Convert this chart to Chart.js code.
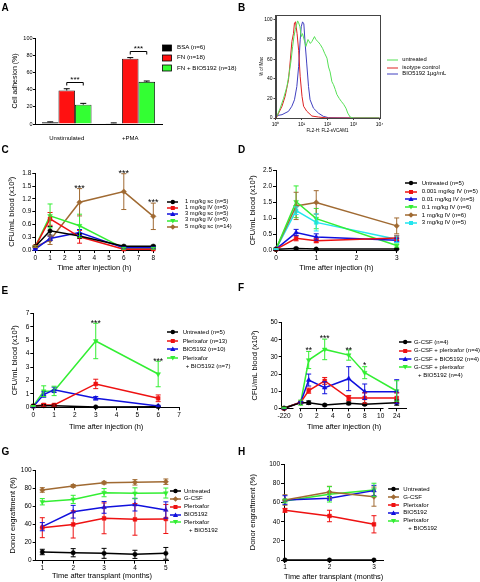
<!DOCTYPE html>
<html><head><meta charset="utf-8">
<script src="https://cdn.jsdelivr.net/npm/chart.js@4.4.1/dist/chart.umd.min.js"></script>
<style>
html,body{margin:0;padding:0;background:#fff;}
#wrap{position:relative;width:480px;height:582px;overflow:hidden;font-family:"Liberation Sans",Arial,sans-serif;color:#000;background:#fff;}
canvas{position:absolute;}
.pl{position:absolute;font-weight:bold;font-size:10px;line-height:10px;}
.lg{position:absolute;white-space:nowrap;}
.mk{position:absolute;line-height:0;}
</style></head><body><div id="wrap">
<canvas id="cA" width="240" height="140" style="left:0;top:0"></canvas>
<canvas id="cB" width="240" height="140" style="left:240px;top:0"></canvas>
<canvas id="cC" width="240" height="140" style="left:0;top:140px"></canvas>
<canvas id="cD" width="240" height="140" style="left:240px;top:140px"></canvas>
<canvas id="cE" width="240" height="155" style="left:0;top:280px"></canvas>
<canvas id="cF" width="240" height="155" style="left:240px;top:280px"></canvas>
<canvas id="cG" width="240" height="162" style="left:0;top:420px"></canvas>
<canvas id="cH" width="240" height="162" style="left:240px;top:420px"></canvas>
<div class="pl" style="left:1.5px;top:3px">A</div>
<div class="pl" style="left:238px;top:3px">B</div>
<div class="pl" style="left:1.5px;top:145px">C</div>
<div class="pl" style="left:238px;top:145px">D</div>
<div class="pl" style="left:1.5px;top:286px">E</div>
<div class="pl" style="left:238px;top:283px">F</div>
<div class="pl" style="left:1.5px;top:447px">G</div>
<div class="pl" style="left:238px;top:447px">H</div>
</div>
<script>
// ---------------- DATA ----------------
// Panel A
const A_categories = ['Unstimulated', '+PMA'];
const A_names = ['BSA (n=6)', 'FN (n=18)', 'FN + BIO5192 (n=18)'];
const A_bsa = [2, 1];
const A_bsaErr = [0.5, 0.3];
const A_fn = [39, 76];
const A_fnErr = [2, 1.2];
const A_fnBio = [22.5, 49];
const A_fnBioErr = [1.5, 1];
const A_yTicks = [0, 20, 40, 60, 80, 100];
const A_sigText = ['***', '***'];
const A_bracketY = [49, 85];
const A_starY = [53.8, 89.9];

// Panel B (x = log10 of fluorescence, y = % of max)
const B_names = ['untreated', 'isotype control', 'BIO5192 1\u03bcg/mL'];
const B_untreatedLog = [0.05, 0.18, 0.31, 0.44, 0.53, 0.6, 0.66, 0.71, 0.76, 0.85, 0.89, 0.94, 0.99, 1.04, 1.12, 1.17, 1.25, 1.34, 1.4, 1.5, 1.55, 1.63, 1.72, 1.81, 1.89, 1.98, 2.04, 2.1, 2.17, 2.23, 2.3, 2.36, 2.45, 2.53, 2.62, 2.71, 2.78, 2.87, 3.0, 4.0];
const B_untreatedPct = [1.7, 10, 20, 32, 46, 59, 73, 83, 90, 99, 97, 93, 83, 86, 78, 73, 80, 76, 78, 83, 80, 78, 75, 71, 66, 61, 52, 47, 37, 34, 29, 24, 20, 17, 14, 10, 5, 1, 0, 0];
const B_isotypeLog = [0.0, 0.05, 0.12, 0.25, 0.37, 0.5, 0.57, 0.63, 0.69, 0.73, 0.77, 0.83, 0.89, 0.95, 1.02, 1.08, 1.2, 1.4, 1.65, 2.0, 3.0, 4.0];
const B_isotypePct = [0, 1, 5, 12, 22, 39, 59, 78, 86, 97, 98, 86, 69, 42, 22, 12, 7, 2, 1, 0, 0, 0];
const B_bioLog = [0.0, 0.05, 0.25, 0.5, 0.63, 0.73, 0.82, 0.89, 0.95, 0.99, 1.04, 1.09, 1.14, 1.2, 1.27, 1.33, 1.46, 1.65, 1.84, 2.04, 3.0, 4.0];
const B_bioPct = [2, 2.4, 3.4, 6.8, 12, 18.6, 32, 52.5, 79.7, 93, 98, 96, 76, 56, 32, 18.6, 10, 5, 1.7, 0.3, 0, 0];
const B_xTicks = [1, 10, 100, 1000, 10000];
const B_xLabels = ['10\u2070', '10\u00b9', '10\u00b2', '10\u00b3', '10\u2074'];
const B_yTicks = [0, 20, 40, 60, 80, 100];

// Panel C
const C_time = [0, 1, 3, 6, 8];
const C_names = ['1 mg/kg sc (n=5)', '1 mg/kg IV (n=5)', '3 mg/kg sc (n=5)', '3 mg/kg IV (n=5)', '5 mg/kg sc (n=14)'];
const C_1sc = [0.08, 0.45, 0.33, 0.09, 0.09];
const C_1scErr = [0.02, 0.1, 0.05, 0.02, 0.02];
const C_1iv = [0.08, 0.73, 0.31, 0.02, 0.02];
const C_1ivErr = [0.02, 0.15, 0.15, 0.01, 0.01];
const C_3sc = [0.02, 0.27, 0.41, 0.05, 0.05];
const C_3scErr = [0.02, 0.05, 0.07, 0.02, 0.02];
const C_3iv = [0.08, 0.8, 0.57, 0.04, 0.04];
const C_3ivErr = [0.02, 0.28, 0.27, 0.02, 0.02];
const C_5sc = [0.08, 0.23, 1.12, 1.37, 0.79];
const C_5scErr = [0.02, 0.1, 0.32, 0.42, 0.31];
const C_xTicks = [0, 1, 2, 3, 4, 5, 6, 7, 8];
const C_yTicks = [0, 0.3, 0.6, 0.9, 1.2, 1.5, 1.8];
const C_starX = [3, 6, 8];
const C_starY = [1.5, 1.85, 1.17];
const C_starText = ['***', '***', '***'];

// Panel D
const D_time = [0, 0.5, 1, 3];
const D_names = ['Untreated (n=5)', '0.001 mg/kg IV (n=5)', '0.01 mg/kg IV (n=5)', '0.1 mg/kg IV (n=6)', '1 mg/kg IV (n=6)', '3 mg/kg IV (n=5)'];
const D_untreated = [0.02, 0.05, 0.03, 0.03];
const D_untreatedErr = [0.01, 0.02, 0.01, 0.01];
const D_0001 = [0.02, 0.37, 0.29, 0.38];
const D_0001Err = [0.01, 0.08, 0.06, 0.08];
const D_001 = [0.03, 0.55, 0.41, 0.31];
const D_001Err = [0.01, 0.1, 0.1, 0.06];
const D_01 = [0.03, 1.52, 0.99, 0.14];
const D_01Err = [0.01, 0.5, 0.32, 0.05];
const D_1 = [0.03, 1.39, 1.5, 0.76];
const D_1Err = [0.01, 0.43, 0.37, 0.25];
const D_3 = [0.03, 1.24, 0.87, 0.34];
const D_3Err = [0.01, 0.12, 0.27, 0.1];
const D_xTicks = [0, 1, 2, 3];
const D_yTicks = [0, 0.5, 1, 1.5, 2, 2.5];

// Panel E
const E_time = [0, 0.5, 1, 3, 6];
const E_names = ['Untreated (n=5)', 'Plerixafor (n=13)', 'BIO5192 (n=10)', 'Plerixafor', '+ BIO5192 (n=7)'];
const E_untreated = [0.1, 0.12, 0.12, 0.03, 0.05];
const E_untreatedErr = [0.03, 0.05, 0.05, 0.02, 0.03];
const E_plerixafor = [0.1, 0.18, 0.17, 1.74, 0.67];
const E_plerixaforErr = [0.03, 0.1, 0.08, 0.35, 0.25];
const E_bio = [0.05, 0.95, 1.3, 0.67, 0.1];
const E_bioErr = [0.02, 0.2, 0.2, 0.13, 0.05];
const E_combo = [0.1, 1.2, 1.22, 4.94, 2.48];
const E_comboErr = [0.03, 0.4, 0.35, 1.32, 0.95];
const E_xTicks = [0, 1, 2, 3, 4, 5, 6, 7];
const E_yTicks = [0, 1, 2, 3, 4, 5, 6, 7];
const E_starX = [3, 6];
const E_starY = [6.43, 3.6];
const E_starText = ['***', '***'];

// Panel F (broken time axis)
const F_time = [-220, 0, 1, 3, 6, 8, 24];
const F_names = ['G-CSF (n=4)', 'G-CSF + plerixafor (n=4)', 'G-CSF + BIO5192 (n=4)', 'G-CSF + plerixafor', '+ BIO5192 (n=4)'];
const F_gcsf = [0, 3.3, 3.3, 1.9, 2.9, 2.3, 3.3];
const F_gcsfErr = [0.3, 0.5, 1, 0.5, 0.8, 0.6, 1.5];
const F_gcsfPlx = [0, 3.5, 10.3, 16, 6, 6, 6];
const F_gcsfPlxErr = [0.3, 0.5, 1.5, 2, 1.5, 3, 3];
const F_gcsfBio = [0, 3.5, 16.5, 12, 17.3, 9.7, 9.7];
const F_gcsfBioErr = [0.3, 0.5, 3.5, 3.5, 7, 4.5, 7];
const F_gcsfCombo = [0.3, 3.3, 28.2, 34.4, 31.1, 20.8, 10.1];
const F_gcsfComboErr = [0.3, 1.5, 5, 6, 3, 3.5, 6];
const F_xTicks = [-220, 0, 2, 4, 6, 8, 10, 24];
const F_yTicks = [0, 10, 20, 30, 40, 50];
const F_starX = [1, 3, 6, 8];
const F_starY = [35, 42.2, 35, 26.3];
const F_starText = ['**', '***', '**', '*'];

// Panel G
const G_month = [1, 2, 3, 4, 5];
const G_names = ['Untreated', 'G-CSF', 'Plerixafor', 'BIO5192', 'Plerixafor', '+ BIO5192'];
const G_untreated = [9.6, 8.8, 8.1, 7, 8.1];
const G_untreatedErr = [3, 4.5, 5.5, 4.5, 6.5];
const G_gcsf = [78, 82.4, 86, 86.4, 87.1];
const G_gcsfErr = [2.5, 1.5, 1.5, 3, 3];
const G_plerixafor = [36.4, 40, 46.7, 45.6, 46];
const G_plerixaforErr = [11, 15, 17, 17.5, 16];
const G_bio = [37.5, 54, 58.8, 61.8, 55.9];
const G_bioErr = [4.5, 7, 6.5, 7, 9];
const G_combo = [65, 67.6, 75, 74.3, 74.6];
const G_comboErr = [3.5, 4.5, 4.5, 6, 5.5];
const G_xTicks = [1, 2, 3, 4, 5];
const G_yTicks = [0, 20, 40, 60, 80, 100];

// Panel H
const H_month = [1, 2, 3];
const H_names = ['Untreated', 'G-CSF', 'Plerixafor', 'BIO5192', 'Plerixafor', '+ BIO5192'];
const H_untreated = [0, 0, 0];
const H_untreatedErr = [0, 0, 0];
const H_gcsf = [62.7, 71, 66.2];
const H_gcsfErr = [5.5, 6, 10];
const H_plerixafor = [51.9, 46, 37.3];
const H_plerixaforErr = [2, 6, 9];
const H_bio = [62.7, 64.5, 72.5];
const H_bioErr = [4.5, 2, 5.5];
const H_combo = [61.7, 68.6, 73.2];
const H_comboErr = [2, 8, 7];
const H_xTicks = [1, 2, 3];
const H_yTicks = [0, 20, 40, 60, 80, 100];

// ---------------- STYLE ----------------
const FONT = '"Liberation Sans", Arial, sans-serif';
const COL = {black: '#000000', red: '#ee1111', blue: '#1010dd', green: '#33ee33', brown: '#a06a32', cyan: '#22e5ee'};
Chart.defaults.font.family = FONT;
Chart.defaults.color = '#000';

// ---------------- PLUGINS ----------------
const errorBars = {
  id: 'errorBars',
  afterDatasetsDraw(chart) {
    const ctx = chart.ctx, ys = chart.scales.y;
    chart.data.datasets.forEach((ds, i) => {
      if (!ds.errors) return;
      const meta = chart.getDatasetMeta(i);
      ctx.save();
      ctx.strokeStyle = ds.errorColor || ds.borderColor;
      ctx.lineWidth = 1;
      meta.data.forEach((el, j) => {
        const raw = ds.data[j];
        const v = (raw !== null && typeof raw === 'object') ? raw.y : raw;
        const e = ds.errors[j];
        if (v == null || !e) return;
        const x = el.x;
        const yt = ys.getPixelForValue(v + e);
        const yb = ds.errorUpOnly ? ys.getPixelForValue(v) : ys.getPixelForValue(v - e);
        const cw = ds.capHalf || 2.5;
        ctx.beginPath();
        ctx.moveTo(x, yt); ctx.lineTo(x, yb);
        ctx.moveTo(x - cw, yt); ctx.lineTo(x + cw, yt);
        if (!ds.errorUpOnly) { ctx.moveTo(x - cw, yb); ctx.lineTo(x + cw, yb); }
        ctx.stroke();
      });
      ctx.restore();
    });
  }
};
const starsPlugin = {
  id: 'stars',
  afterDatasetsDraw(chart, args, opts) {
    if (!opts || !opts.items) return;
    const {ctx} = chart, xs = chart.scales.x, ys = chart.scales.y;
    const size = opts.size || 9;
    ctx.save();
    ctx.fillStyle = '#000';
    ctx.font = size + 'px ' + FONT;
    ctx.textAlign = 'center';
    ctx.textBaseline = 'alphabetic';
    opts.items.forEach(it => {
      ctx.fillText(it.text, xs.getPixelForValue(it.x), ys.getPixelForValue(it.y) + 0.575 * size);
    });
    ctx.restore();
  }
};
const breaksPlugin = {
  id: 'breaks',
  afterDraw(chart, args, opts) {
    if (!opts || !opts.ranges) return;
    const {ctx, chartArea} = chart, xs = chart.scales.x;
    ctx.save();
    ctx.fillStyle = '#fff';
    opts.ranges.forEach(r => {
      const a = xs.getPixelForValue(r[0]), b = xs.getPixelForValue(r[1]);
      ctx.fillRect(a, chartArea.bottom - 0.8, b - a, 5);
    });
    ctx.restore();
  }
};
const boxPlugin = {
  id: 'box',
  afterDraw(chart) {
    const {ctx, chartArea: c} = chart;
    ctx.save();
    ctx.strokeStyle = '#444';
    ctx.lineWidth = 1;
    ctx.strokeRect(Math.round(c.left) + 0.5, Math.round(c.top) + 0.5, Math.round(c.right - c.left), Math.round(c.bottom - c.top));
    ctx.restore();
  }
};
const bracketsPlugin = {
  id: 'brackets',
  afterDatasetsDraw(chart, args, opts) {
    if (!opts || !opts.items) return;
    const {ctx} = chart, ys = chart.scales.y;
    opts.items.forEach(it => {
      const a = chart.getDatasetMeta(it.from).data[it.cat].x;
      const b = chart.getDatasetMeta(it.to).data[it.cat].x;
      const y = Math.round(ys.getPixelForValue(it.y)) + 0.5;
      ctx.save();
      ctx.strokeStyle = '#000'; ctx.lineWidth = 1;
      ctx.beginPath();
      ctx.moveTo(a, y + 3); ctx.lineTo(a, y); ctx.lineTo(b, y); ctx.lineTo(b, y + 3);
      ctx.stroke();
      ctx.fillStyle = '#000';
      ctx.font = '8px ' + FONT;
      ctx.textAlign = 'center';
      ctx.fillText(it.text, (a + b) / 2, ys.getPixelForValue(it.starY) + 0.575 * 8);
      ctx.restore();
    });
  }
};

function axisBase(tickSize) {
  return {
    grid: {display: true, drawOnChartArea: false, drawTicks: true, tickLength: 3, color: '#000', tickWidth: 1},
    border: {display: true, color: '#000', width: 1},
    ticks: {font: {family: FONT, size: tickSize}, color: '#000', maxRotation: 0, autoSkip: false}
  };
}

// ---------------- LINE PANELS ----------------
function linePanel(id, P) {
  const xmap = P.xmap || (t => t);
  const datasets = P.series.map(s => ({
    label: s.label,
    data: P.x.map((t, i) => ({x: xmap(t), y: s.y[i]})),
    errors: s.err,
    borderColor: s.color, backgroundColor: s.color,
    pointBackgroundColor: s.color, pointBorderColor: s.color,
    borderWidth: 1.5,
    pointRadius: s.shape === 'circle' ? 2.2 : 2.7,
    pointStyle: s.shape, rotation: s.rot || 0,
    pointBorderWidth: 0.5, tension: 0, clip: false, capHalf: 2.5
  }));
  const titleFont = {family: FONT, size: P.titleSize || 7.5};
  const xb = axisBase(P.tickSize || 6.5), yb = axisBase(P.tickSize || 6.5);
  return new Chart(document.getElementById(id), {
    type: 'line',
    data: {datasets},
    options: {
      responsive: false, animation: false, devicePixelRatio: 1, events: [],
      layout: {autoPadding: false, padding: {left: 0, top: P.padTop, right: P.padRight, bottom: 0}},
      plugins: {
        legend: {display: false}, tooltip: {enabled: false},
        stars: {items: P.stars || [], size: P.starSize || 9},
        breaks: P.breaks ? {ranges: P.breaks} : {ranges: null}
      },
      scales: {
        x: Object.assign(xb, {
          type: 'linear', min: P.xMin, max: P.xMax,
          afterBuildTicks: s => { s.ticks = P.xTicks.map(v => ({value: xmap(v)})); },
          afterFit: s => { s.height = P.xH; s.paddingLeft = 0; s.paddingRight = 0; },
          ticks: Object.assign(xb.ticks, {padding: P.xTickPad, callback: (v, i) => String(P.xTicks[i])}),
          title: {display: true, text: P.xTitle, font: titleFont, color: '#000', padding: {top: 0, bottom: P.xTitlePad}}
        }),
        y: Object.assign(yb, {
          type: 'linear', min: P.yMin, max: P.yMax,
          afterBuildTicks: s => { s.ticks = P.yTicks.map(v => ({value: v})); },
          afterFit: s => { s.width = P.yW; s.paddingTop = 0; s.paddingBottom = 0; },
          ticks: Object.assign(yb.ticks, {padding: 1, callback: (v, i) => P.yFmt ? P.yFmt(P.yTicks[i]) : String(P.yTicks[i])}),
          title: {display: true, text: P.yTitle, font: titleFont, color: '#000', padding: {top: P.yTitlePad, bottom: 0}}
        })
      }
    },
    plugins: [errorBars, starsPlugin, breaksPlugin]
  });
}

// ---------------- PANEL A ----------------
(function () {
  const mk = (label, data, err, color) => ({
    label, data, errors: err, backgroundColor: color, borderColor: '#000', borderWidth: 0.8,
    errorColor: '#000', errorUpOnly: true, capHalf: 3, categoryPercentage: 0.78, barPercentage: 1.0
  });
  const xb = axisBase(6), yb = axisBase(5.5);
  new Chart(document.getElementById('cA'), {
    type: 'bar',
    data: {labels: A_categories, datasets: [
      mk(A_names[0], A_bsa, A_bsaErr, COL.black),
      mk(A_names[1], A_fn, A_fnErr, '#ff1111'),
      mk(A_names[2], A_fnBio, A_fnBioErr, '#33ff33')
    ]},
    options: {
      responsive: false, animation: false, devicePixelRatio: 1, events: [],
      layout: {autoPadding: false, padding: {left: 0, top: 38, right: 78, bottom: 0}},
      plugins: {
        legend: {display: false}, tooltip: {enabled: false},
        brackets: {items: A_categories.map((c, i) => ({cat: i, from: 1, to: 2, y: A_bracketY[i], starY: A_starY[i], text: A_sigText[i]}))}
      },
      scales: {
        x: Object.assign(xb, {
          grid: {display: false},
          afterFit: s => { s.height = 16; s.paddingLeft = 0; s.paddingRight = 0; },
          ticks: Object.assign(xb.ticks, {padding: 3})
        }),
        y: Object.assign(yb, {
          min: 0, max: 100,
          grid: Object.assign(yb.grid, {tickLength: 2}),
          afterBuildTicks: s => { s.ticks = A_yTicks.map(v => ({value: v})); },
          afterFit: s => { s.width = 35; s.paddingTop = 0; s.paddingBottom = 0; },
          ticks: Object.assign(yb.ticks, {padding: 0.5}),
          title: {display: true, text: 'Cell adhesion (%)', font: {family: FONT, size: 7}, color: '#000', padding: {top: 10.8, bottom: 0}}
        })
      }
    },
    plugins: [errorBars, bracketsPlugin]
  });
})();

// ---------------- PANEL B ----------------
(function () {
  const curves = [
    [B_untreatedLog, B_untreatedPct, '#55e055'],
    [B_isotypeLog, B_isotypePct, '#dd2222'],
    [B_bioLog, B_bioPct, '#4040c0']
  ];
  const xb = axisBase(5), yb = axisBase(5);
  new Chart(document.getElementById('cB'), {
    type: 'line',
    data: {datasets: curves.map((c, k) => ({
      label: B_names[k],
      data: c[0].map((e, i) => ({x: Math.pow(10, e), y: c[1][i]})),
      borderColor: c[2], borderWidth: 1, pointRadius: 0, tension: 0, clip: false
    }))},
    options: {
      responsive: false, animation: false, devicePixelRatio: 1, events: [],
      layout: {autoPadding: false, padding: {left: 0, top: 15, right: 100.5, bottom: 0}},
      plugins: {legend: {display: false}, tooltip: {enabled: false}},
      scales: {
        x: Object.assign(xb, {
          type: 'logarithmic', min: 1, max: 10000,
          grid: Object.assign(xb.grid, {tickLength: 2, color: '#444'}),
          border: {display: true, color: '#444', width: 1},
          afterBuildTicks: s => { s.ticks = B_xTicks.map(v => ({value: v})); },
          afterFit: s => { s.height = 22; s.paddingLeft = 0; s.paddingRight = 0; },
          ticks: Object.assign(xb.ticks, {padding: 2, callback: (v, i) => B_xLabels[i]}),
          title: {display: true, text: 'FL2-H: FL2-sVCAM1', font: {family: FONT, size: 4.5}, color: '#000', padding: {top: 0, bottom: 6.3}}
        }),
        y: Object.assign(yb, {
          min: 0, max: 105,
          grid: Object.assign(yb.grid, {tickLength: 2, color: '#444'}),
          border: {display: true, color: '#444', width: 1},
          afterBuildTicks: s => { s.ticks = B_yTicks.map(v => ({value: v})); },
          afterFit: s => { s.width = 35.5; s.paddingTop = 0; s.paddingBottom = 0; },
          ticks: Object.assign(yb.ticks, {padding: 1}),
          title: {display: true, text: '% of Max', font: {family: FONT, size: 4.5}, color: '#000', padding: {top: 19.3, bottom: 0}}
        })
      }
    },
    plugins: [boxPlugin]
  });
})();

// ---------------- PANELS C–H ----------------
linePanel('cC', {
  x: C_time,
  series: [
    {label: C_names[0], y: C_1sc, err: C_1scErr, color: COL.black, shape: 'circle'},
    {label: C_names[1], y: C_1iv, err: C_1ivErr, color: COL.red, shape: 'rect'},
    {label: C_names[2], y: C_3sc, err: C_3scErr, color: COL.blue, shape: 'triangle'},
    {label: C_names[3], y: C_3iv, err: C_3ivErr, color: COL.green, shape: 'triangle', rot: 180},
    {label: C_names[4], y: C_5sc, err: C_5scErr, color: COL.brown, shape: 'rectRot'}
  ],
  xMin: 0, xMax: 8, xTicks: C_xTicks, yMin: 0, yMax: 1.8, yTicks: C_yTicks, yFmt: v => v.toFixed(1),
  padTop: 33.3, padRight: 86.7, yW: 35.3, xH: 30, xTickPad: 1, xTitlePad: 7.2, yTitlePad: 7.2,
  xTitle: 'Time after injection (h)', yTitle: 'CFU/mL blood (x10\u00b3)',
  stars: C_starX.map((x, i) => ({x, y: C_starY[i], text: C_starText[i]}))
});

linePanel('cD', {
  x: D_time,
  series: [
    {label: D_names[0], y: D_untreated, err: D_untreatedErr, color: COL.black, shape: 'circle'},
    {label: D_names[1], y: D_0001, err: D_0001Err, color: COL.red, shape: 'rect'},
    {label: D_names[2], y: D_001, err: D_001Err, color: COL.blue, shape: 'triangle'},
    {label: D_names[3], y: D_01, err: D_01Err, color: COL.green, shape: 'triangle', rot: 180},
    {label: D_names[4], y: D_1, err: D_1Err, color: COL.brown, shape: 'rectRot'},
    {label: D_names[5], y: D_3, err: D_3Err, color: COL.cyan, shape: 'rect'}
  ],
  xMin: 0, xMax: 3, xTicks: D_xTicks, yMin: 0, yMax: 2.5, yTicks: D_yTicks, yFmt: v => v.toFixed(1),
  padTop: 30.7, padRight: 83.3, yW: 36, xH: 30, xTickPad: 1, xTitlePad: 7.2, yTitlePad: 8.8,
  xTitle: 'Time after injection (h)', yTitle: 'CFU/mL blood (x10\u00b3)'
});

linePanel('cE', {
  x: E_time,
  series: [
    {label: E_names[0], y: E_untreated, err: E_untreatedErr, color: COL.black, shape: 'circle'},
    {label: E_names[1], y: E_plerixafor, err: E_plerixaforErr, color: COL.red, shape: 'rect'},
    {label: E_names[2], y: E_bio, err: E_bioErr, color: COL.blue, shape: 'triangle'},
    {label: E_names[3] + ' ' + E_names[4], y: E_combo, err: E_comboErr, color: COL.green, shape: 'triangle', rot: 180}
  ],
  xMin: 0, xMax: 7, xTicks: E_xTicks, yMin: 0, yMax: 7, yTicks: E_yTicks,
  padTop: 33.3, padRight: 61, yW: 33.3, xH: 27.7, xTickPad: 1.4, xTitlePad: 3.8, yTitlePad: 10.5,
  xTitle: 'Time after injection (h)', yTitle: 'CFU/mL blood (x10\u00b3)', starSize: 8.5,
  stars: E_starX.map((x, i) => ({x, y: E_starY[i], text: E_starText[i]}))
});

function fPos(t) { return t === -220 ? -2.08 : (t === 24 ? 12 : t); }
linePanel('cF', {
  x: F_time, xmap: fPos,
  series: [
    {label: F_names[0], y: F_gcsf, err: F_gcsfErr, color: COL.black, shape: 'circle'},
    {label: F_names[1], y: F_gcsfPlx, err: F_gcsfPlxErr, color: COL.red, shape: 'rect'},
    {label: F_names[2], y: F_gcsfBio, err: F_gcsfBioErr, color: COL.blue, shape: 'triangle'},
    {label: F_names[3] + ' ' + F_names[4], y: F_gcsfCombo, err: F_gcsfComboErr, color: COL.green, shape: 'triangle', rot: 180}
  ],
  xMin: -2.375, xMax: 13.25, xTicks: F_xTicks, yMin: 0, yMax: 50, yTicks: F_yTicks,
  padTop: 42.7, padRight: 73.3, yW: 41.7, xH: 26.7, xTickPad: 1.4, xTitlePad: 3.5, yTitlePad: 10.5,
  xTitle: 'Time after injection (h)', yTitle: 'CFU/mL blood (x10\u00b3)', starSize: 8.5,
  breaks: [[-0.9, -0.17], [10.35, 10.95]],
  stars: F_starX.map((x, i) => ({x, y: F_starY[i], text: F_starText[i]}))
});

linePanel('cG', {
  x: G_month,
  series: [
    {label: G_names[0], y: G_untreated, err: G_untreatedErr, color: COL.black, shape: 'circle'},
    {label: G_names[1], y: G_gcsf, err: G_gcsfErr, color: COL.brown, shape: 'rectRot'},
    {label: G_names[2], y: G_plerixafor, err: G_plerixaforErr, color: COL.red, shape: 'rect'},
    {label: G_names[3], y: G_bio, err: G_bioErr, color: COL.blue, shape: 'triangle'},
    {label: G_names[4] + ' ' + G_names[5], y: G_combo, err: G_comboErr, color: COL.green, shape: 'triangle', rot: 180}
  ],
  xMin: 0.786, xMax: 5.08, xTicks: G_xTicks, yMin: 0, yMax: 100, yTicks: G_yTicks,
  padTop: 50, padRight: 71.7, yW: 35.7, xH: 21.3, xTickPad: 0.3, xTitlePad: 1.8, yTitlePad: 8.8,
  xTitle: 'Time after transplant (months)', yTitle: 'Donor engraftment (%)'
});

linePanel('cH', {
  x: H_month,
  series: [
    {label: H_names[0], y: H_untreated, err: H_untreatedErr, color: COL.black, shape: 'circle'},
    {label: H_names[1], y: H_gcsf, err: H_gcsfErr, color: COL.brown, shape: 'rectRot'},
    {label: H_names[2], y: H_plerixafor, err: H_plerixaforErr, color: COL.red, shape: 'rect'},
    {label: H_names[3], y: H_bio, err: H_bioErr, color: COL.blue, shape: 'triangle'},
    {label: H_names[4] + ' ' + H_names[5], y: H_combo, err: H_comboErr, color: COL.green, shape: 'triangle', rot: 180}
  ],
  xMin: 0.978, xMax: 3.21, xTicks: H_xTicks, yMin: 0, yMax: 100, yTicks: H_yTicks,
  padTop: 44.3, padRight: 96.7, yW: 44, xH: 22, xTickPad: 0.3, xTitlePad: 0.8, yTitlePad: 8.8,
  xTitle: 'Time after transplant (months)', yTitle: 'Donor engraftment (%)'
});

// ---------------- LEGENDS (HTML text) ----------------
function shapeSVG(shape, cx, cy, c) {
  if (shape === 'circle') return `<circle cx="${cx}" cy="${cy}" r="2.2" fill="${c}"/>`;
  if (shape === 'rect') return `<rect x="${cx - 2}" y="${cy - 2}" width="4" height="4" fill="${c}"/>`;
  if (shape === 'triangle') return `<polygon points="${cx},${cy - 2.6} ${cx - 2.6},${cy + 2} ${cx + 2.6},${cy + 2}" fill="${c}"/>`;
  if (shape === 'tridown') return `<polygon points="${cx},${cy + 2.6} ${cx - 2.6},${cy - 2} ${cx + 2.6},${cy - 2}" fill="${c}"/>`;
  if (shape === 'diamond') return `<polygon points="${cx},${cy - 2.8} ${cx + 2.8},${cy} ${cx},${cy + 2.8} ${cx - 2.8},${cy}" fill="${c}"/>`;
  return '';
}
function markerSVG(kind, color, shape, w) {
  const h = 8, cy = 4, cx = w / 2;
  let s = `<svg xmlns="http://www.w3.org/2000/svg" width="${w}" height="${h}" style="display:block">`;
  if (kind === 'box') s += `<rect x="0.5" y="1" width="${w - 1}" height="6" fill="${color}" stroke="#000" stroke-width="0.8"/>`;
  else {
    s += `<line x1="0" y1="${cy}" x2="${w}" y2="${cy}" stroke="${color}" stroke-width="${kind === 'thin' ? 1 : 1.5}"/>`;
    if (shape) s += shapeSVG(shape, cx, cy, color);
  }
  return s + '</svg>';
}
function addLegend(L) {
  const wrap = document.getElementById('wrap');
  L.rows.forEach(r => {
    if (r.color) {
      const d = document.createElement('div');
      d.className = 'mk';
      d.style.left = L.mx + 'px';
      d.style.top = (r.y - 4) + 'px';
      d.innerHTML = markerSVG(L.kind || 'line', r.color, r.shape, L.mw);
      wrap.appendChild(d);
    }
    const t = document.createElement('div');
    t.className = 'lg';
    t.style.left = (L.tx + (r.indent || 0)) + 'px';
    t.style.top = (r.y - L.size * 0.55) + 'px';
    t.style.fontSize = L.size + 'px';
    t.style.lineHeight = L.size + 'px';
    t.textContent = r.text;
    wrap.appendChild(t);
  });
}
addLegend({kind: 'box', mx: 162, mw: 10, tx: 177, size: 6.2, rows: [
  {y: 47.7, color: '#000', text: A_names[0]},
  {y: 57.7, color: '#ff1111', text: A_names[1]},
  {y: 68.3, color: '#33ff33', text: A_names[2]}
]});
addLegend({kind: 'thin', mx: 387, mw: 11, tx: 402.3, size: 5.8, rows: [
  {y: 60.3, color: '#55e055', text: B_names[0]},
  {y: 67.7, color: '#dd2222', text: B_names[1]},
  {y: 74, color: '#4040c0', text: B_names[2]}
]});
addLegend({mx: 166.7, mw: 11.6, tx: 185, size: 5.8, rows: [
  {y: 202, color: COL.black, shape: 'circle', text: C_names[0]},
  {y: 208.2, color: COL.red, shape: 'rect', text: C_names[1]},
  {y: 214.4, color: COL.blue, shape: 'triangle', text: C_names[2]},
  {y: 220.6, color: COL.green, shape: 'tridown', text: C_names[3]},
  {y: 226.8, color: COL.brown, shape: 'diamond', text: C_names[4]}
]});
addLegend({mx: 405, mw: 12, tx: 421.7, size: 6, rows: [
  {y: 183.3, color: COL.black, shape: 'circle', text: D_names[0]},
  {y: 191.5, color: COL.red, shape: 'rect', text: D_names[1]},
  {y: 199.3, color: COL.blue, shape: 'triangle', text: D_names[2]},
  {y: 207.3, color: COL.green, shape: 'tridown', text: D_names[3]},
  {y: 215, color: COL.brown, shape: 'diamond', text: D_names[4]},
  {y: 222.7, color: COL.cyan, shape: 'rect', text: D_names[5]}
]});
addLegend({mx: 166.7, mw: 11.6, tx: 182.7, size: 6, rows: [
  {y: 332.3, color: COL.black, shape: 'circle', text: E_names[0]},
  {y: 341, color: COL.red, shape: 'rect', text: E_names[1]},
  {y: 349.3, color: COL.blue, shape: 'triangle', text: E_names[2]},
  {y: 358.3, color: COL.green, shape: 'tridown', text: E_names[3]},
  {y: 366, text: E_names[4], indent: 3}
]});
addLegend({mx: 399.3, mw: 12.4, tx: 414, size: 6, rows: [
  {y: 342, color: COL.black, shape: 'circle', text: F_names[0]},
  {y: 350.7, color: COL.red, shape: 'rect', text: F_names[1]},
  {y: 359, color: COL.blue, shape: 'triangle', text: F_names[2]},
  {y: 367.3, color: COL.green, shape: 'tridown', text: F_names[3]},
  {y: 375, text: F_names[4], indent: 4}
]});
addLegend({mx: 170, mw: 11, tx: 184, size: 6, rows: [
  {y: 491, color: COL.black, shape: 'circle', text: G_names[0]},
  {y: 498.7, color: COL.brown, shape: 'diamond', text: G_names[1]},
  {y: 506.7, color: COL.red, shape: 'rect', text: G_names[2]},
  {y: 514.7, color: COL.blue, shape: 'triangle', text: G_names[3]},
  {y: 522.3, color: COL.green, shape: 'tridown', text: G_names[4]},
  {y: 530, text: G_names[5], indent: 5}
]});
addLegend({mx: 388.3, mw: 11, tx: 403.3, size: 6, rows: [
  {y: 489.3, color: COL.black, shape: 'circle', text: H_names[0]},
  {y: 497, color: COL.brown, shape: 'diamond', text: H_names[1]},
  {y: 505, color: COL.red, shape: 'rect', text: H_names[2]},
  {y: 512.7, color: COL.blue, shape: 'triangle', text: H_names[3]},
  {y: 520.7, color: COL.green, shape: 'tridown', text: H_names[4]},
  {y: 528.3, text: H_names[5], indent: 5}
]});
</script>
</body></html>
